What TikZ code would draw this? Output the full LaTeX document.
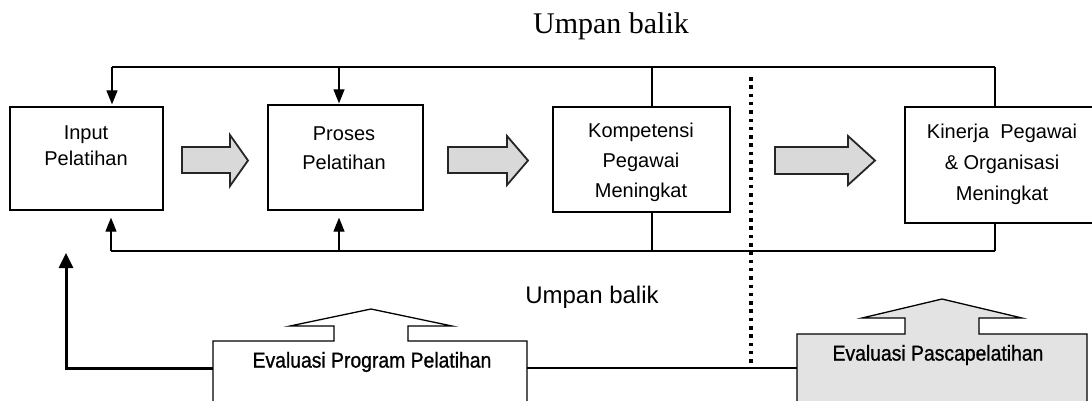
\documentclass[tikz,border=0pt]{standalone}
\usepackage{fontspec}
\setmainfont{Liberation Sans}
\newfontfamily\titlefont{Liberation Serif}
\newfontfamily\evalfont[FakeStretch=0.9,FakeBold=1]{Liberation Sans}
\usetikzlibrary{arrows.meta}
\begin{document}
\begin{tikzpicture}[x=1pt,y=-1pt,
  box/.style={draw,line width=1.3pt,inner sep=0pt},
  lbl/.style={align=center,inner sep=0pt},
  fb/.style={line width=1.2pt},
  tipd/.style={-{Triangle[width=11pt,length=14pt]}},
  blk/.style={draw=black!85,line width=1.8pt,fill=gray!30,line join=miter},
  evshape/.style={draw,line width=1.3pt,line join=miter},
  evtext/.style={inner sep=0pt,font=\evalfont\fontsize{21.5}{22}\selectfont},
]
\useasboundingbox (0,0) rectangle (1092,400);
\clip (0,0) rectangle (1092,400);

% boxes
\node[box,minimum width=153pt,minimum height=103pt] (inp) at (86.5,158.5) {};
\node[box,minimum width=155pt,minimum height=105pt] (pro) at (345.5,157.5) {};
\node[box,minimum width=177pt,minimum height=105pt] (komp) at (641.5,159.5) {};
\node[box,minimum width=205pt,minimum height=116pt] (kin) at (1007.5,165) {};

% box texts
\node[lbl,font=\fontsize{20}{26}\selectfont] (tinp) at (86,146) {Input\\Pelatihan};
\node[lbl,font=\fontsize{20}{29}\selectfont] (tpro) at (344,148) {Proses\\Pelatihan};
\node[lbl,font=\fontsize{20}{30}\selectfont] (tkomp) at (641,162) {Kompetensi\\Pegawai\\Meningkat};
\node[lbl,font=\fontsize{20}{31}\selectfont] (tkin) at (1002,164) {Kinerja\ \ Pegawai\\\& Organisasi\\Meningkat};

% titles
\node[inner sep=0pt,font=\titlefont\fontsize{30}{30}\selectfont] (ttop) at (611,26) {Umpan balik};
\node[inner sep=0pt,font=\fontsize{24}{24}\selectfont] (tbot) at (592,297) {Umpan balik};

% block arrows
\path[blk] (182,147) -- (230,147) -- (230,135) -- (248,160.5) -- (230,186) -- (230,173) -- (182,173) -- cycle;
\path[blk] (448,147) -- (507,147) -- (507,136) -- (528,160.5) -- (507,185) -- (507,173) -- (448,173) -- cycle;
\path[blk] (775,147) -- (848,147) -- (848,136) -- (875,160.5) -- (848,185) -- (848,174) -- (775,174) -- cycle;

% top feedback
\coordinate (tl) at (112,67);
\coordinate (tp) at (339,67);
\coordinate (tk) at (652,67);
\coordinate (tr) at (995,67);
\draw[fb] (tl) -- (tr);
\draw[fb,tipd,shorten >=2pt] (tl) -- (tl |- inp.north);
\draw[fb,tipd,shorten >=1pt] (tp) -- (tp |- pro.north);
\draw[fb] (tk) -- (tk |- komp.north);
\draw[fb] (tr) -- (tr |- kin.north);

% bottom feedback
\coordinate (bl) at (111,251);
\coordinate (bp) at (339,251);
\coordinate (bk) at (652,251);
\coordinate (br) at (995,251);
\draw[fb] (bl) -- (br);
\draw[fb,tipd,shorten >=7pt] (bl) -- (bl |- inp.south);
\draw[fb,tipd,shorten >=7pt] (bp) -- (bp |- pro.south);
\draw[fb] (bk) -- (bk |- komp.south);
\draw[fb] (br) -- (br |- kin.south);

% evaluation shapes
\path[evshape,fill=white] (213,410) -- (213,341) -- (334,341) -- (334,326) -- (290,326) -- (371,309) -- (452,326) -- (408,326) -- (408,341) -- (527,341) -- (527,410);
\path[evshape,fill=gray!22] (797,410) -- (797,334) -- (905,334) -- (905,318) -- (862,318) -- (942,299) -- (1022,318) -- (979,318) -- (979,334) -- (1087,334) -- (1087,410);
\node[evtext] (tev1) at (372,362) {Evaluasi Program Pelatihan};
\node[evtext] (tev2) at (938,355) {Evaluasi Pascapelatihan};

% evaluation connectors
\coordinate (ev1l) at (213,368);
\coordinate (ev1r) at (527,368);
\coordinate (ev2l) at (797,368);
\coordinate (upl) at (66,253);
\draw[line width=3pt,-{Triangle[width=14pt,length=15pt]}] (ev1l) -| (upl);
\draw[line width=2.5pt] (ev1r) -- (ev2l);

% divider
\coordinate (d1) at (751,77);
\coordinate (d2) at (751,363);
\draw[line width=3.5pt,dash pattern=on 3.5pt off 4.8pt] (d1) -- (d2);
\end{tikzpicture}
\end{document}
